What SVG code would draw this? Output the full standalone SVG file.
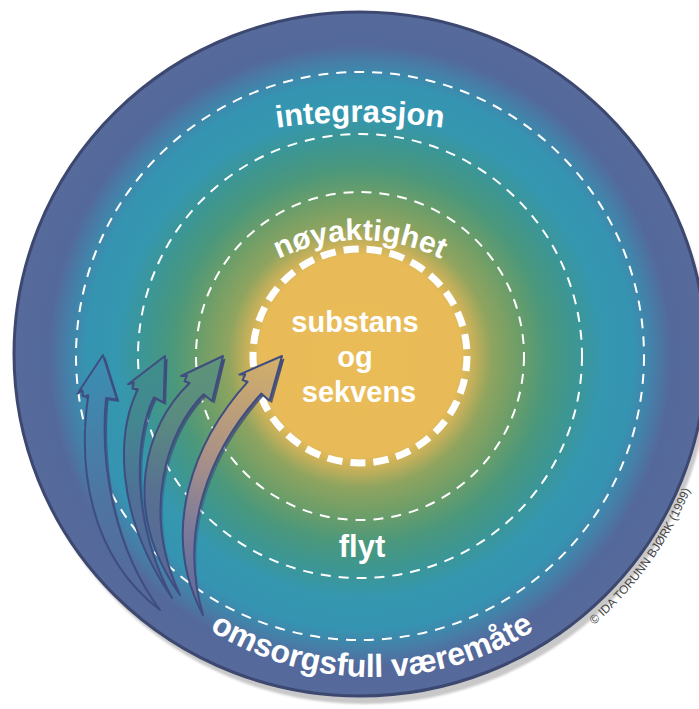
<svg xmlns="http://www.w3.org/2000/svg" width="699" height="709" viewBox="0 0 699 709">
  <style>
    .ring { fill: none; stroke: #ffffff; stroke-width: 2; stroke-dasharray: 10 8; }
    .core { fill: none; stroke: #ffffff; stroke-width: 7; stroke-dasharray: 15.2 8; }
    .lbl { fill: #ffffff; font-family: "Liberation Sans", Arial, sans-serif; font-weight: 700; }
    .arrow { stroke: #3f4d80; stroke-width: 2; stroke-linejoin: round; }
    .ashadow { fill: url(#shadowGrad); stroke: none; }
    .copy { fill: #444444; font-family: "Liberation Sans", Arial, sans-serif; font-size: 12px; }
  </style>
  <defs>
    <radialGradient id="bg" gradientUnits="userSpaceOnUse" cx="360" cy="356" r="346">
      <stop offset="0" stop-color="#e9bc58"/>
      <stop offset="0.29" stop-color="#e8bb58"/>
      <stop offset="0.33" stop-color="#c4b05a"/>
      <stop offset="0.38" stop-color="#8fa45f"/>
      <stop offset="0.46" stop-color="#6e9e68"/>
      <stop offset="0.54" stop-color="#4b987b"/>
      <stop offset="0.62" stop-color="#3d9692"/>
      <stop offset="0.70" stop-color="#3597b0"/>
      <stop offset="0.79" stop-color="#3594b1"/>
      <stop offset="0.85" stop-color="#467ea8"/>
      <stop offset="0.90" stop-color="#54699b"/>
      <stop offset="1" stop-color="#566a9b"/>
    </radialGradient>
    <linearGradient id="shadowGrad" x1="0" y1="1" x2="0" y2="0">
      <stop offset="0" stop-color="#3a4676" stop-opacity="0"/>
      <stop offset="0.5" stop-color="#3a4676" stop-opacity="0.5"/>
      <stop offset="1" stop-color="#3a4676" stop-opacity="0.95"/>
    </linearGradient>
    <linearGradient id="a1" gradientUnits="userSpaceOnUse" x1="160" y1="610" x2="103" y2="355">
      <stop offset="0" stop-color="#56689a"/>
      <stop offset="0.45" stop-color="#4f74a2"/>
      <stop offset="1" stop-color="#3a8fb2"/>
    </linearGradient>
    <linearGradient id="a2" gradientUnits="userSpaceOnUse" x1="172" y1="598" x2="165" y2="356">
      <stop offset="0" stop-color="#56689a"/>
      <stop offset="0.4" stop-color="#4f6f98"/>
      <stop offset="0.75" stop-color="#438890"/>
      <stop offset="1" stop-color="#3e8f8c"/>
    </linearGradient>
    <linearGradient id="a3" gradientUnits="userSpaceOnUse" x1="180" y1="595" x2="223" y2="356">
      <stop offset="0" stop-color="#56689a"/>
      <stop offset="0.4" stop-color="#587092"/>
      <stop offset="0.7" stop-color="#5a8a80"/>
      <stop offset="1" stop-color="#5e9578"/>
    </linearGradient>
    <linearGradient id="a4" gradientUnits="userSpaceOnUse" x1="203" y1="615" x2="282" y2="356">
      <stop offset="0" stop-color="#5a6a9a"/>
      <stop offset="0.3" stop-color="#7e7b9a"/>
      <stop offset="0.55" stop-color="#a89088"/>
      <stop offset="1" stop-color="#d4b068"/>
    </linearGradient>
    <path id="pInteg" d="M 154.8 158.2 A 600 600 0 0 1 565.2 158.2"/>
    <path id="pNoy" d="M 199.8 332.5 A 185 185 0 0 1 520.2 332.5"/>
    <path id="pOms" d="M 85.4 476.3 A 305 305 0 0 0 658.6 476.3"/>
    <path id="pCopy" d="M 523.2 673.3 A 360 360 0 0 0 713 407.2"/>
    <filter id="blur" x="-5%" y="-5%" width="110%" height="110%">
      <feGaussianBlur stdDeviation="1.2"/>
    </filter>
  </defs>

  <!-- background disc -->
  <g id="disc">
    <ellipse cx="364" cy="362" rx="346" ry="342" fill="#c8c8c8" filter="url(#blur)"/>
    <ellipse cx="360" cy="354" rx="346" ry="342" fill="url(#bg)" stroke="#3c4870" stroke-width="3"/>
  </g>

  <!-- rings -->
  <g id="ring-integrasjon"><circle class="ring" cx="360" cy="356" r="284"/></g>
  <g id="ring-flyt"><circle class="ring" cx="360" cy="356" r="222"/></g>
  <g id="ring-noyaktighet"><circle class="ring" cx="360" cy="356" r="164"/></g>
  <g id="ring-substans"><circle class="core" cx="360" cy="356" r="107"/></g>

  <!-- labels -->
  <g id="label-integrasjon">
    <text class="lbl" font-size="31"><textPath href="#pInteg" startOffset="50%" text-anchor="middle">integrasjon</textPath></text>
  </g>
  <g id="label-noyaktighet">
    <text class="lbl" font-size="30"><textPath href="#pNoy" startOffset="50%" text-anchor="middle">nøyaktighet</textPath></text>
  </g>
  <g id="label-substans">
    <text class="lbl" font-size="29" text-anchor="middle">
      <tspan x="359" y="332">substans</tspan>
      <tspan x="359" y="367">og</tspan>
      <tspan x="359" y="402">sekvens</tspan>
    </text>
  </g>
  <g id="label-flyt">
    <text class="lbl" font-size="31" x="362" y="557" text-anchor="middle">flyt</text>
  </g>
  <g id="label-omsorgsfull">
    <text class="lbl" font-size="32"><textPath href="#pOms" startOffset="50%" text-anchor="middle">omsorgsfull væremåte</textPath></text>
  </g>

  <!-- connectors: arrows -->
  <g id="connectors">
    <g id="arrow1">
      <path class="ashadow" transform="translate(2.5,2.5)" d="M 103 355 L 117 399.4 L 106.1 397.9 C 100 460 112 545 160 610 C 88 555 78 465 88.3 395.3 L 83.1 396.6 L 82.3 390.4 L 77.4 393.8 Z"/>
      <path class="arrow" fill="url(#a1)" d="M 103 355 L 117 399.4 L 106.1 397.9 C 100 460 112 545 160 610 C 88 555 78 465 88.3 395.3 L 83.1 396.6 L 82.3 390.4 L 77.4 393.8 Z"/>
    </g>
    <g id="arrow2">
      <path class="ashadow" transform="translate(2.5,2.5)" d="M 165 356 L 163.7 402.5 L 153.9 397.5 C 135 435 130 520 172 598 C 112 510 118 430 137.9 389.3 L 132.6 388.8 L 133.8 382.7 L 128.1 384.3 Z"/>
      <path class="arrow" fill="url(#a2)" d="M 165 356 L 163.7 402.5 L 153.9 397.5 C 135 435 130 520 172 598 C 112 510 118 430 137.9 389.3 L 132.6 388.8 L 133.8 382.7 L 128.1 384.3 Z"/>
    </g>
    <g id="arrow3">
      <path class="ashadow" transform="translate(2.5,2.5)" d="M 223 356 L 212.1 401.2 L 203.6 394.3 C 165 432 142 515 180 595 C 120 510 145 425 189.6 382.9 L 184.5 381.3 L 187 375.7 L 181.1 376 Z"/>
      <path class="arrow" fill="url(#a3)" d="M 223 356 L 212.1 401.2 L 203.6 394.3 C 165 432 142 515 180 595 C 120 510 145 425 189.6 382.9 L 184.5 381.3 L 187 375.7 L 181.1 376 Z"/>
    </g>
    <g id="arrow4">
      <path class="ashadow" transform="translate(2.5,2.5)" d="M 282 356 L 269.5 400.8 L 261.2 393.6 C 210 450 178 530 203 615 C 158 530 195 440 247.6 381.8 L 242.6 380.1 L 245.2 374.5 L 239.3 374.6 Z"/>
      <path class="arrow" fill="url(#a4)" d="M 282 356 L 269.5 400.8 L 261.2 393.6 C 210 450 178 530 203 615 C 158 530 195 440 247.6 381.8 L 242.6 380.1 L 245.2 374.5 L 239.3 374.6 Z"/>
    </g>
  </g>

  <g id="copyright">
    <text class="copy"><textPath href="#pCopy" startOffset="50%" text-anchor="middle">© IDA TORUNN BJØRK (1999)</textPath></text>
  </g>
</svg>
